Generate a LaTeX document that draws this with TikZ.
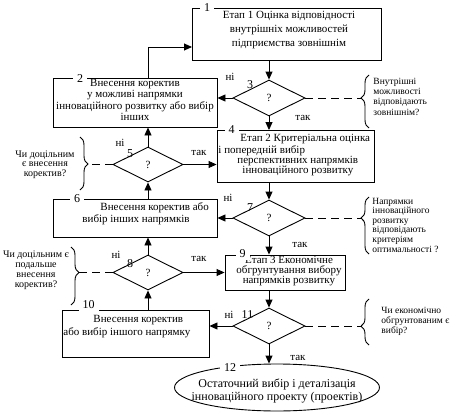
\documentclass[tikz,border=0pt]{standalone}
\usepackage{fontspec}
\setmainfont{Liberation Serif}
\usetikzlibrary{arrows.meta,shapes.geometric,decorations.pathreplacing}
\begin{document}
\begin{tikzpicture}[x=1pt,y=-1pt,line width=0.9pt,
  boxnode/.style={draw,rectangle,inner sep=0pt},
  dia/.style={draw,diamond,inner sep=0pt,minimum width=72pt,minimum height=36pt,font=\fontsize{11}{11}\selectfont},
  arr/.style={-{Triangle[length=8pt,width=7pt]}},
  dsh/.style={dash pattern=on 8pt off 5pt},
  brc/.style={decorate,decoration={brace,amplitude=8pt,aspect=#1}},
  num/.style={fill=white,inner xsep=4pt,inner ysep=2.5pt,anchor=base,font=\fontsize{12}{12}\selectfont},
  dnum/.style={inner sep=0pt,anchor=base,font=\fontsize{12}{12}\selectfont},
  yn/.style={inner sep=0pt,anchor=base,font=\fontsize{11}{11}\selectfont},
  txa/.style={inner sep=0pt,align=center,anchor=base,font=\fontsize{11}{14}\selectfont},
  txl/.style={inner sep=0pt,align=left,anchor=base west,font=\fontsize{11}{#1}\selectfont},
  qtx/.style={inner sep=0pt,align=left,anchor=base west,font=\fontsize{9.5}{#1}\selectfont},
  qtc/.style={inner sep=0pt,align=center,anchor=base,font=\fontsize{10}{#1}\selectfont}]
\useasboundingbox (0,0) rectangle (469,415);
\fill[white] (0,0) rectangle (469,415);

% boxes
\node[boxnode,minimum width=189pt,minimum height=52pt] (b1) at (286.5,34) {};
\node[boxnode,minimum width=164pt,minimum height=49pt] (b2) at (135,102.5) {};
\node[boxnode,minimum width=157pt,minimum height=52pt] (b4) at (295.5,156.5) {};
\node[boxnode,minimum width=164pt,minimum height=38pt] (b6) at (135,218) {};
\node[boxnode,minimum width=120pt,minimum height=35pt] (b9) at (285,272.5) {};
\node[boxnode,minimum width=147pt,minimum height=47pt] (b10) at (135.5,333.5) {};
\node[draw,ellipse,inner sep=0pt,minimum width=205pt,minimum height=47pt] (e12) at (277,387.5) {};

% diamonds
\node[dia] (d3) at (269,98) {?};
\node[dia,minimum width=70pt,minimum height=35pt] (d5) at (148,164.5) {?};
\node[dia] (d7) at (269,218) {?};
\node[dia,minimum width=70pt,minimum height=35pt] (d8) at (148,272.5) {?};
\node[dia] (d11) at (269,326) {?};

% texts in boxes (anchor base = baseline of the last line)
\node[txa] (t1) at (289,46) {Етап 1 Оцінка відповідності\\внутрішніх можливостей\\підприємства зовнішнім};
\node[txa,font=\fontsize{11}{11.5}\selectfont] (t2) at (135,120.5) {Внесення коректив\\у можливі напрямки\\інноваційного розвитку або вибір\\інших};
\node[txl=10] (t4) at (218,173) {\hspace*{22pt}Етап 2 Критеріальна оцінка\\і попередній вибір\\\hspace*{19pt}перспективних напрямків\\\hspace*{24pt}інноваційного розвитку};
\node[txl=12.5] (t6) at (82,222.5) {\hspace*{18pt}Внесення коректив або\\вибір інших напрямків};
\node[txa,font=\fontsize{11}{10}\selectfont] (t9) at (289,283) {Етап 3 Економічне\\обгрунтування вибору\\напрямків розвитку};
\node[txl=13] (t10) at (63,335) {\hspace*{30pt}Внесення коректив\\або вибір іншого напрямку};
\node[txa,font=\fontsize{12}{13.5}\selectfont] (t12) at (277,400.5) {Остаточний вибір і деталізація\\інноваційного проекту (проектів)};

% number labels
\node[num] (n1) at (207,12) {1};
\node[num] (n2) at (80,82) {2};
\node[dnum] (n3) at (250,88) {3};
\node[num] (n4) at (231.5,133) {4};
\node[dnum] (n5) at (130,157) {5};
\node[num] (n6) at (77,202) {6};
\node[dnum] (n7) at (250,211) {7};
\node[dnum] (n8) at (130,267) {8};
\node[num] (n9) at (242.5,257) {9};
\node[num,inner ysep=3.5pt] (n10) at (88.5,308) {10};
\node[dnum] (n11) at (247.5,318) {11};
\node[num] (n12) at (230,371) {12};

% yes / no labels
\node[yn] (y3n) at (230,80) {ні};
\node[yn] (y3y) at (303,120) {так};
\node[yn] (y5n) at (120,146) {ні};
\node[yn] (y5y) at (199,155) {так};
\node[yn] (y7n) at (228,201) {ні};
\node[yn] (y7y) at (300,247) {так};
\node[yn] (y8n) at (116,258) {ні};
\node[yn] (y8y) at (199,261) {так};
\node[yn] (y11n) at (229,318) {ні};
\node[yn] (y11y) at (298,360) {так};

% arrows
\coordinate (b1in) at (192,47);
\draw[arr] (d5.north |- b2.north) |- (b1in);
\draw[arr] (d3.north |- b1.south) -- (d3.north);
\draw[arr] (d3.west) -- (d3.west -| b2.east);
\draw[arr] (d3.south) -- (d3.south |- b4.north);
\draw[arr] (d5.north) -- (d5.north |- b2.south);
\draw[arr] (d5.east) -- (d5.east -| b4.west);
\draw[arr] (d5.south |- b6.north) -- (d5.south);
\draw[arr] (d7.north |- b4.south) -- (d7.north);
\draw[arr] (d7.west) -- (d7.west -| b6.east);
\draw[arr] (d7.south) -- (d7.south |- b9.north);
\draw[arr] (d8.north) -- (d8.north |- b6.south);
\draw[arr] (d8.east) -- (d8.east -| b9.west);
\draw[arr] (d8.south |- b10.north) -- (d8.south);
\draw[arr] (d11.north |- b9.south) -- (d11.north);
\draw[arr] (d11.west) -- (d11.west -| b10.east);
\draw[arr] (d11.south) -- (d11.south |- e12.north);

% braces and questions
\coordinate (q3) at (361,98);
\coordinate (q5) at (88,164.5);
\coordinate (q7) at (361,218);
\coordinate (q8) at (79,272.5);
\coordinate (q11) at (361,326);
\draw[dsh] (d3.east) -- (q3);
\draw[dsh] (d5.west) -- (q5);
\draw[dsh] (d7.east) -- (q7);
\draw[dsh] (d8.west) -- (q8);
\draw[dsh] (d11.east) -- (q11);
\draw[brc=0.566] (369,128) -- (369,75);
\draw[brc=0.51] (80,137) -- (80,190);
\draw[brc=0.63] (369,254) -- (369,197);
\draw[brc=0.44] (71,247) -- (71,305);
\draw[brc=0.41] (369,345) -- (369,299);

\node[qtx=10.3] (c3) at (373,115) {Внутрішні\\можливості\\відповідають\\зовнішнім?};
\node[qtc=9.5] (c5) at (45,176) {Чи доцільним\\є внесення\\коректив?};
\node[qtx=9.6] (c7) at (372,252) {Напрямки\\інноваційного\\розвитку\\відповідають\\критеріям\\оптимальності ?};
\node[qtc=10] (c8) at (36,287) {Чи доцільним є\\подальше\\внесення\\коректив?};
\node[qtx=10] (c11) at (381,333) {Чи економічно\\обгрунтованим є\\вибір?};
\end{tikzpicture}
\end{document}
